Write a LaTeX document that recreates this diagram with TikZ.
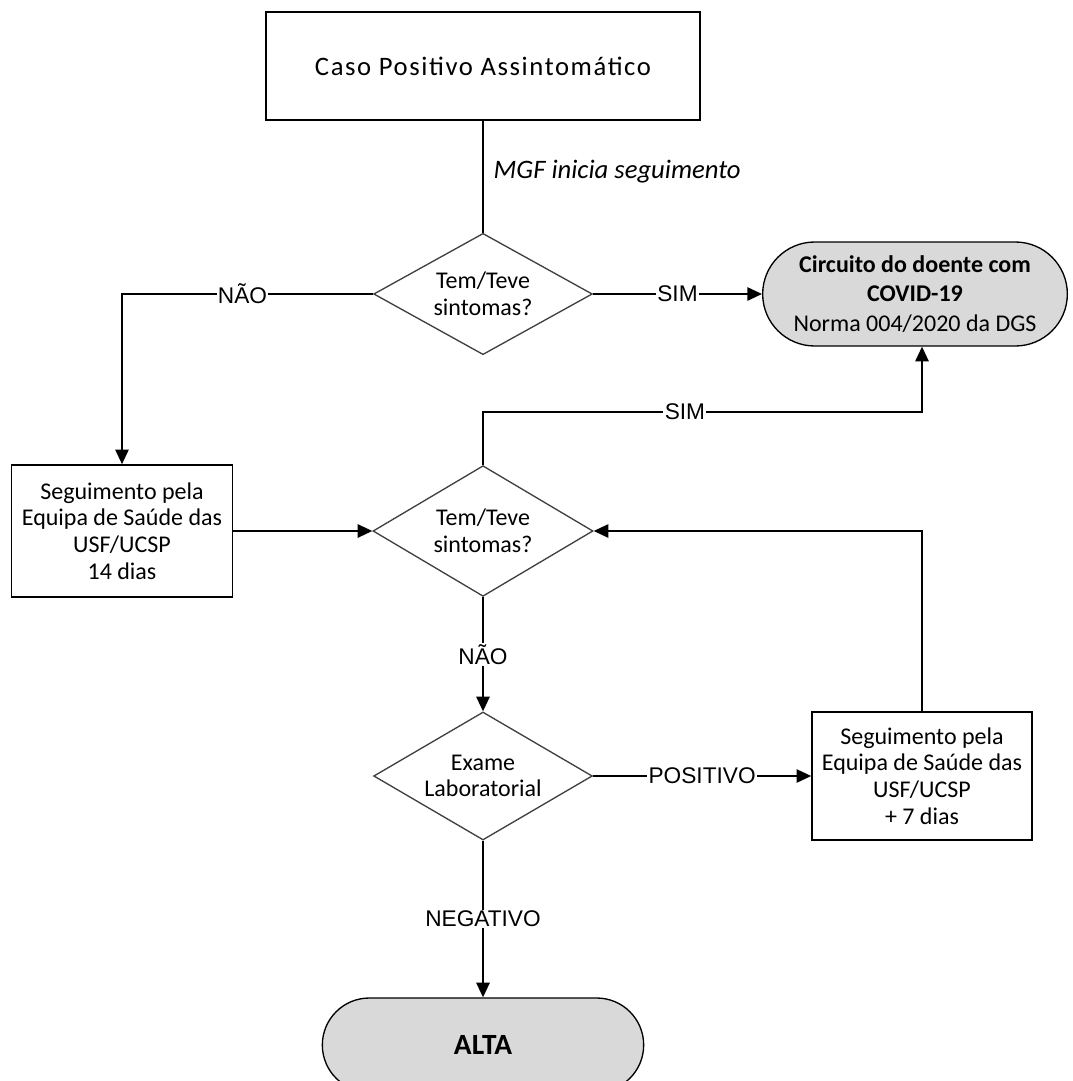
\documentclass[tikz,border=0pt]{standalone}
\usepackage{fontspec}
\setmainfont{Carlito}
\newfontfamily\rotulofont{Liberation Sans}
\usepackage{tikz}
\usetikzlibrary{shapes.geometric}
\usetikzlibrary{shapes.misc}
\usetikzlibrary{arrows.meta}
\definecolor{cinzento}{HTML}{D9D9D9}
\tikzset{caixa/.style={draw, line width=1.2pt, align=center, inner sep=2pt,
           font=\fontsize{18}{20}\selectfont},
         decisao/.style={diamond, aspect=1.7, draw=black!75, line width=1pt,
           align=center, inner sep=0pt, font=\fontsize{18}{20}\selectfont},
         terminal/.style={rounded rectangle, draw, line width=1pt, fill=cinzento,
           align=center, inner sep=2pt, font=\fontsize{18}{22}\selectfont},
         linha/.style={line width=1.3pt},
         seta/.style={line width=1.3pt, -{Triangle[length=11pt,width=10pt]}},
         rotulo/.style={fill=white, inner sep=1pt,
           font=\rotulofont\fontsize{17}{19}\selectfont}}

\begin{document}
\begin{tikzpicture}[x=0.75pt, y=-0.75pt]
\useasboundingbox (0,0) rectangle (1072,1081);
% Caixas:
\node[caixa, minimum width=325.5pt, minimum height=81pt,
      font=\fontsize{20}{24}\selectfont\addfontfeature{LetterSpace=6}]
  (caso) at (483,66) {Caso Positivo Assintomático};
\node[decisao, minimum width=164pt, minimum height=91pt] (sint1) at (483,294)
  {Tem/Teve\\sintomas?};
\node[terminal, minimum width=232.5pt, minimum height=78pt] (circuito) at (915,294)
  {\textbf{Circuito do doente com}\\\textbf{COVID-19}\\Norma 004/2020 da DGS};
\node[caixa, minimum width=166pt, minimum height=99pt] (seg14) at (122,531)
  {Seguimento pela\\Equipa de Saúde das\\USF/UCSP\\14 dias};
\node[decisao, minimum width=165pt, minimum height=98pt] (sint2) at (483,531)
  {Tem/Teve\\sintomas?};
\node[decisao, minimum width=164pt, minimum height=96pt] (exame) at (483,776)
  {Exame\\Laboratorial};
\node[caixa, minimum width=165pt, minimum height=96pt] (seg7) at (922,776)
  {Seguimento pela\\Equipa de Saúde das\\USF/UCSP\\+ 7 dias};
\node[terminal, minimum width=245pt, minimum height=70.5pt,
      font=\fontsize{22}{24}\selectfont\bfseries] (alta) at (483,1045) {ALTA};
% Ligacoes:
\draw[linha] (caso.south) -- node[pos=0.45, right=4pt,
  font=\fontsize{20}{24}\selectfont\itshape] {MGF inicia seguimento} (sint1.north);
\draw[seta] (sint1.east) -- node[rotulo] {SIM} (circuito.west);
\draw[seta] (sint1.west) -| node[rotulo, pos=0.26] {NÃO} (seg14.north);
\draw[seta] (seg14.east) -- (sint2.west);
\draw[seta] (sint2.north) -- ++(0,-53) -| node[rotulo, pos=0.23] {SIM}
  (circuito.south -| seg7.north);
\draw[seta] (sint2.south) -- node[rotulo] {NÃO} (exame.north);
\draw[seta] (exame.east) -- node[rotulo] {POSITIVO} (seg7.west);
\draw[seta] (seg7.north) |- (sint2.east);
\draw[seta] (exame.south) -- node[rotulo] {NEGATIVO} (alta.north);
\end{tikzpicture}
\end{document}
